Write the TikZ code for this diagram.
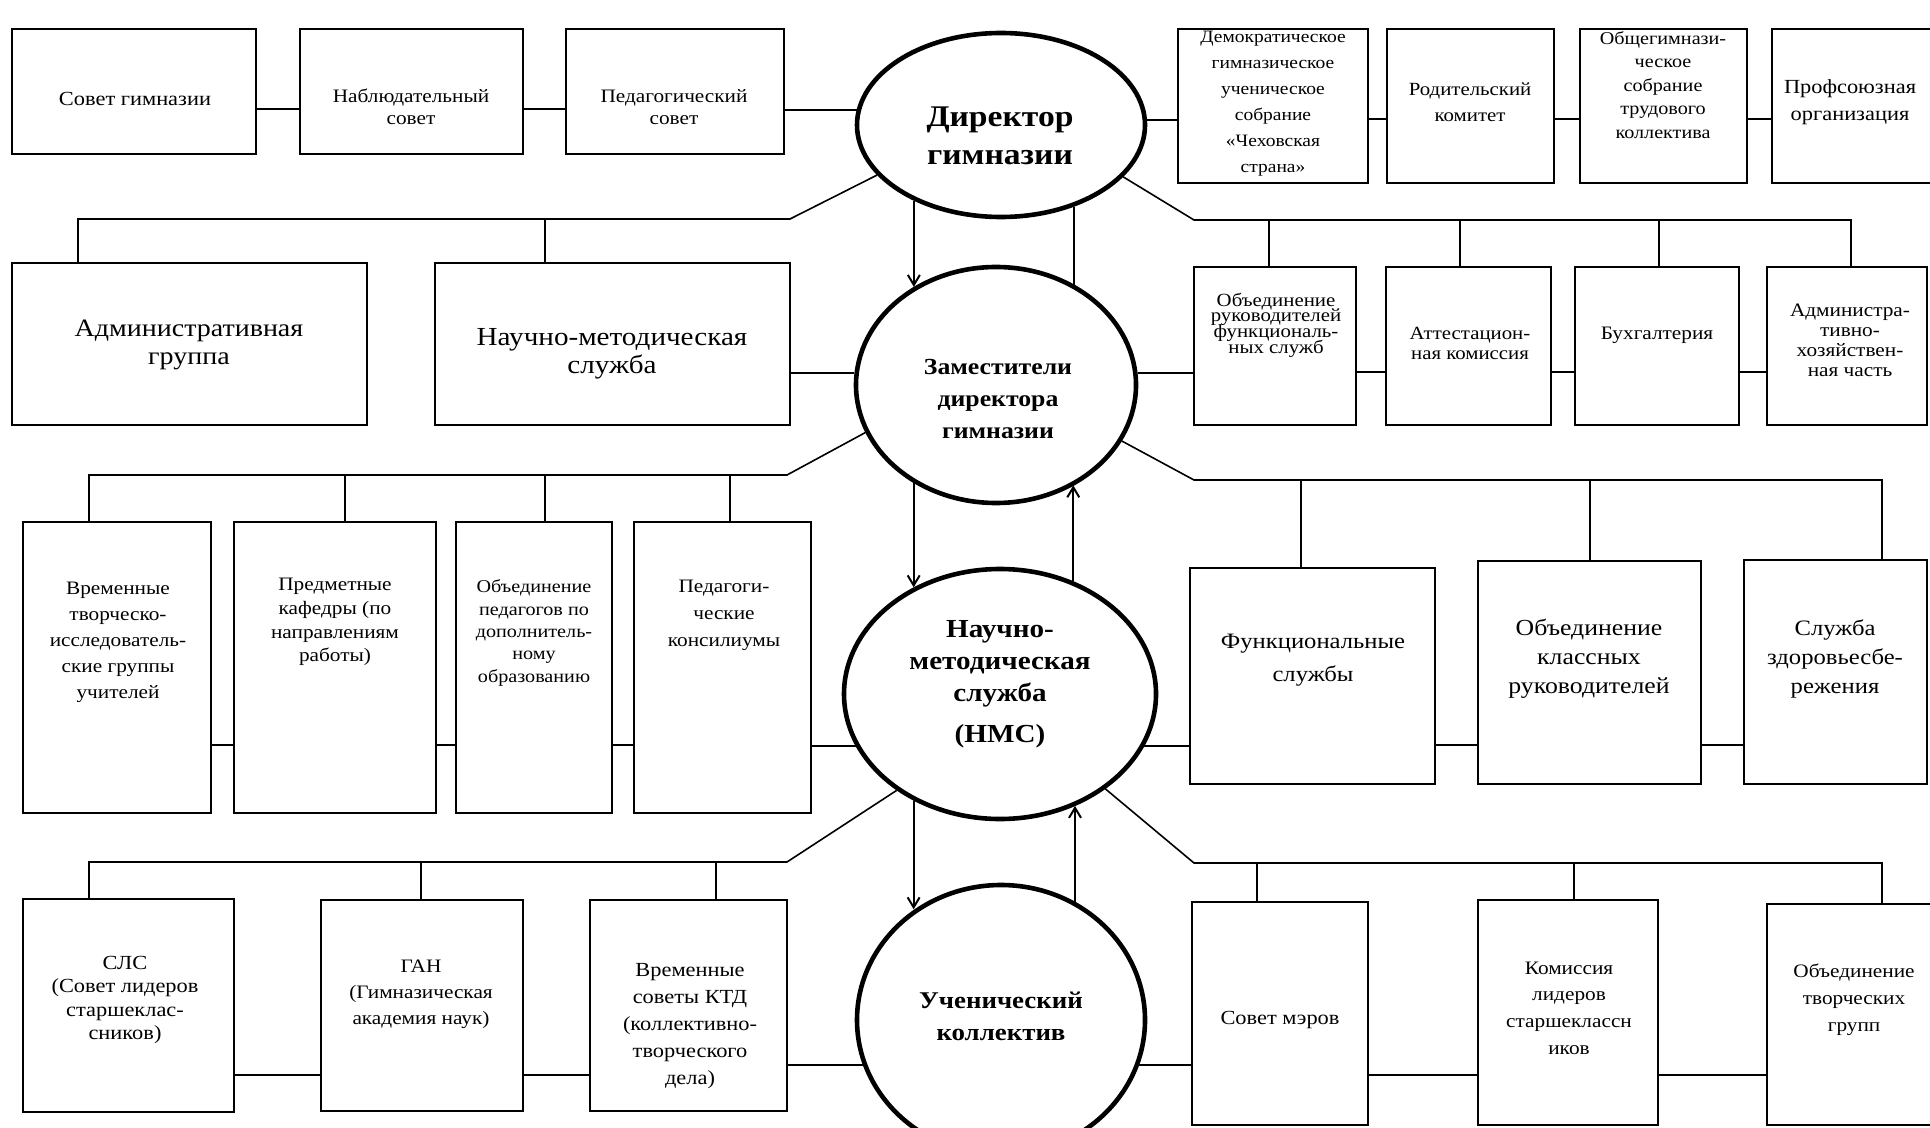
\documentclass[tikz,border=0pt]{standalone}
\usepackage{fontspec}
\setmainfont{Liberation Serif}[FakeStretch=1.12]
\usetikzlibrary{shapes.geometric,arrows.meta}
\newcommand\fsz[2]{\fontsize{#1}{#2}\selectfont\lineskiplimit=-20pt\relax}
\newcommand\mkbox[5]{\node[box, minimum width={(#4-#2)*0.5pt}, minimum height={(#5-#3)*0.5pt}] (#1) at ({(#2+#4)/2},{(#3+#5)/2}) {};}
\tikzset{
  box/.style={draw, line width=1.1pt, inner sep=0pt, outer sep=0pt},
  oval/.style={draw, ellipse, line width=2.3pt, inner sep=0pt},
  tx/.style={align=center, inner sep=0pt},
  btx/.style={align=center, inner sep=0pt},
  link/.style={line width=1pt},
  branch/.style={line width=0.8pt},
  arr/.style={line width=1pt, -{Straight Barb[length=5pt,width=6pt]}},
}
\begin{document}
\begin{tikzpicture}[x=0.5pt,y=-0.5pt]
\useasboundingbox (0,0) rectangle (1930,1128);
\fill[white] (0,0) rectangle (1930,1128);
\clip (0,0) rectangle (1930,1128);

% ---------- ellipses ----------
\node[oval, minimum width=144pt, minimum height=92pt]  (dir) at (1001,125) {};
\node[oval, minimum width=140pt, minimum height=118pt] (zam) at (996,385) {};
\node[oval, minimum width=156pt, minimum height=125pt] (nms) at (1000,694) {};
\node[oval, minimum width=144pt, minimum height=135pt] (uch) at (1001,1020) {};
\node[btx, font=\bfseries\fsz{15}{19}]     (dir-t) at (1000,136) {Директор\\гимназии};
\node[btx, font=\bfseries\fsz{11.5}{15.8}] (zam-t) at (998,399) {Заместители\\директора\\гимназии};
\node[btx, font=\bfseries\fsz{13}{16}]     (nms-t) at (1000,684) {Научно-\\методическая\\служба\\[4.5pt](НМС)};
\node[btx, font=\bfseries\fsz{12}{16}]     (uch-t) at (1001,1016) {Ученический\\коллектив};

% ---------- boxes ----------
\mkbox{sovet}{12}{29}{256}{154}
\mkbox{nabl}{300}{29}{523}{154}
\mkbox{ped}{566}{29}{784}{154}
\mkbox{demo}{1178}{29}{1368}{183}
\mkbox{rod}{1387}{29}{1554}{183}
\mkbox{obsh}{1580}{29}{1747}{183}
\mkbox{prof}{1772}{29}{1935}{183}
\mkbox{adm}{12}{263}{367}{425}
\mkbox{nauch}{435}{263}{790}{425}
\mkbox{obrk}{1194}{267}{1356}{425}
\mkbox{att}{1386}{267}{1551}{425}
\mkbox{buh}{1575}{267}{1739}{425}
\mkbox{admh}{1767}{267}{1927}{425}
\mkbox{vrem}{23}{522}{211}{813}
\mkbox{pred}{234}{522}{436}{813}
\mkbox{obped}{456}{522}{612}{813}
\mkbox{pedk}{634}{522}{811}{813}
\mkbox{func}{1190}{568}{1435}{784}
\mkbox{oklr}{1478}{561}{1701}{784}
\mkbox{zdr}{1744}{560}{1927}{784}
\mkbox{sls}{23}{899}{234}{1112}
\mkbox{gan}{321}{900}{523}{1111}
\mkbox{ktd}{590}{900}{787}{1111}
\mkbox{sovm}{1192}{902}{1368}{1125}
\mkbox{kom}{1478}{900}{1658}{1125}
\mkbox{obtv}{1767}{904}{1935}{1125}

% ---------- box texts ----------
\node[tx, font=\fsz{10}{11}]     (sovet-t) at (135,99)  {Совет гимназии};
\node[tx, font=\fsz{9.5}{11}]    (nabl-t)  at (411,107) {Наблюдательный\\совет};
\node[tx, font=\fsz{9.5}{11}]    (ped-t)   at (674,107) {Педагогический\\совет};
\node[tx, font=\fsz{8.7}{13}]    (demo-t)  at (1273,104) {Демократическое\\гимназическое\\ученическое\\собрание\\«Чеховская\\страна»};
\node[tx, font=\fsz{9.3}{13}]    (rod-t)   at (1470,102) {Родительский\\комитет};
\node[tx, font=\fsz{9}{11.7}]    (obsh-t)  at (1663,85)  {Общегимнази-\\ческое\\собрание\\трудового\\коллектива};
\node[tx, font=\fsz{10}{13.5}]   (prof-t)  at (1850,102) {Профсоюзная\\организация};
\node[tx, font=\fsz{12.5}{14}]   (adm-t)   at (189,345) {Административная\\группа};
\node[tx, font=\fsz{13}{14}]     (nauch-t) at (612,354) {Научно-методическая\\служба};
\node[tx, font=\fsz{9.3}{7.8}]   (obrk-t)  at (1276,325) {Объединение\\руководителей\\функциональ-\\ных служб};
\node[tx, font=\fsz{9.3}{10}]    (att-t)   at (1470,343) {Аттестацион-\\ная комиссия};
\node[tx, font=\fsz{9.5}{9}]     (buh-t)   at (1657,335) {Бухгалтерия};
\node[tx, font=\fsz{9.5}{10}]    (admh-t)  at (1850,340) {Администра-\\тивно-\\хозяйствен-\\ная часть};
\node[tx, font=\fsz{9.5}{13}]    (vrem-t)  at (118,642) {Временные\\творческо-\\исследователь-\\ские группы\\учителей};
\node[tx, font=\fsz{9.5}{11.8}]  (pred-t)  at (335,622) {Предметные\\кафедры (по\\направлениям\\работы)};
\node[tx, font=\fsz{9}{11.2}]    (obped-t) at (534,633) {Объединение\\педагогов по\\дополнитель-\\ному\\образованию};
\node[tx, font=\fsz{9.5}{13.5}]  (pedk-t)  at (724,615) {Педагоги-\\ческие\\консилиумы};
\node[tx, font=\fsz{11}{16.5}]   (func-t)  at (1313,660) {Функциональные\\службы};
\node[tx, font=\fsz{11.5}{14.5}] (oklr-t)  at (1589,659) {Объединение\\классных\\руководителей};
\node[tx, font=\fsz{11}{14.5}]   (zdr-t)   at (1835,659) {Служба\\здоровьесбе-\\режения};
\node[tx, font=\fsz{10}{11.7}]   (sls-t)   at (125,1000) {СЛС\\(Совет лидеров\\старшеклас-\\сников)};
\node[tx, font=\fsz{9.5}{13}]    (gan-t)   at (421,994) {ГАН\\(Гимназическая\\академия наук)};
\node[tx, font=\fsz{10}{13.5}]   (ktd-t)   at (690,1026) {Временные\\советы КТД\\(коллективно-\\творческого\\дела)};
\node[tx, font=\fsz{10}{12}]     (sovm-t)  at (1280,1020) {Совет мэров};
\node[tx, font=\fsz{9.5}{13.3}]  (kom-t)   at (1569,1008) {Комиссия\\лидеров\\старшеклассн\\иков};
\node[tx, font=\fsz{9.5}{13.5}]  (obtv-t)  at (1854,1000) {Объединение\\творческих\\групп};

% ---------- horizontal connectors ----------
\coordinate (y1) at (0,109);
\coordinate (y1r) at (0,119);
\coordinate (y2) at (0,372);
\coordinate (y3) at (0,745);
\coordinate (y4) at (0,1075);
\draw[link] (sovet.east |- y1) -- (nabl.west |- y1);
\draw[link] (nabl.east |- y1) -- (ped.west |- y1);
\draw[link] (ped.east |- dir.174) -- (dir.174);
\draw[link] (dir.2) -- (dir.2 -| demo.west);
\draw[link] (demo.east |- y1r) -- (rod.west |- y1r);
\draw[link] (rod.east |- y1r) -- (obsh.west |- y1r);
\draw[link] (obsh.east |- y1r) -- (prof.west |- y1r);

\draw[link] (nauch.east |- zam.175) -- (zam.175);
\draw[link] (zam.5) -- (zam.5 -| obrk.west);
\draw[link] (obrk.east |- y2) -- (att.west |- y2);
\draw[link] (att.east |- y2) -- (buh.west |- y2);
\draw[link] (buh.east |- y2) -- (admh.west |- y2);

\draw[link] (vrem.east |- y3) -- (pred.west |- y3);
\draw[link] (pred.east |- y3) -- (obped.west |- y3);
\draw[link] (obped.east |- y3) -- (pedk.west |- y3);
\draw[link] (pedk.east |- nms.200) -- (nms.200);
\draw[link] (nms.340) -- (nms.340 -| func.west);
\draw[link] (func.east |- y3) -- (oklr.west |- y3);
\draw[link] (oklr.east |- y3) -- (zdr.west |- y3);

\draw[link] (sls.east |- y4) -- (gan.west |- y4);
\draw[link] (gan.east |- y4) -- (ktd.west |- y4);
\draw[link] (ktd.east |- uch.198) -- (uch.198);
\draw[link] (uch.342) -- (uch.342 -| sovm.west);
\draw[link] (sovm.east |- y4) -- (kom.west |- y4);
\draw[link] (kom.east |- y4) -- (obtv.west |- y4);

% ---------- vertical links between ellipses ----------
\draw[arr]  (dir.221) -- (dir.221 |- zam.130);
\draw[link] (dir.312) -- (dir.312 |- zam.52);
\draw[arr]  (zam.230) -- (zam.230 |- nms.129);
\draw[arr]  (nms.57) -- (nms.57 |- zam.308);
\draw[arr]  (nms.231) -- (nms.231 |- uch.128);
\draw[arr]  (uch.58) -- (uch.58 |- nms.304);

% ---------- branches ----------
\coordinate (k1) at (790,219);
\coordinate (k2) at (1194,220);
\coordinate (k3) at (787,475);
\coordinate (k4) at (1194,480);
\coordinate (k5) at (787,862);
\coordinate (k6) at (1194,863);

\coordinate (d11) at ([xshift=33pt]adm.north west);
\coordinate (d12) at ([xshift=55pt]nauch.north west);
\draw[branch] (dir.202) -- (k1) -| (d11);
\draw[branch] (k1 -| d12) -- (d12);

\coordinate (d21) at ([xshift=37.5pt]obrk.north west);
\coordinate (d22) at ([xshift=37pt]att.north west);
\coordinate (d23) at ([xshift=42pt]buh.north west);
\coordinate (d24) at ([xshift=42pt]admh.north west);
\draw[branch] (dir.337) -- (k2) -| (d24);
\draw[branch] (k2 -| d21) -- (d21);
\draw[branch] (k2 -| d22) -- (d22);
\draw[branch] (k2 -| d23) -- (d23);

\coordinate (d31) at ([xshift=33pt]vrem.north west);
\coordinate (d32) at ([xshift=55.5pt]pred.north west);
\coordinate (d33) at ([xshift=44.5pt]obped.north west);
\coordinate (d34) at ([xshift=48pt]pedk.north west);
\draw[branch] (zam.200) -- (k3) -| (d31);
\draw[branch] (k3 -| d32) -- (d32);
\draw[branch] (k3 -| d33) -- (d33);
\draw[branch] (k3 -| d34) -- (d34);

\coordinate (d41) at ([xshift=55.5pt]func.north west);
\coordinate (d42) at ([xshift=56pt]oklr.north west);
\coordinate (d43) at ([xshift=69pt]zdr.north west);
\draw[branch] (zam.336) -- (k4) -| (d43);
\draw[branch] (k4 -| d41) -- (d41);
\draw[branch] (k4 -| d42) -- (d42);

\coordinate (d51) at ([xshift=33pt]sls.north west);
\coordinate (d52) at ([xshift=50pt]gan.north west);
\coordinate (d53) at ([xshift=63pt]ktd.north west);
\draw[branch] (nms.223) -- (k5) -| (d51);
\draw[branch] (k5 -| d52) -- (d52);
\draw[branch] (k5 -| d53) -- (d53);

\coordinate (d61) at ([xshift=32.5pt]sovm.north west);
\coordinate (d62) at ([xshift=48pt]kom.north west);
\coordinate (d63) at ([xshift=57.5pt]obtv.north west);
\draw[branch] (nms.318) -- (k6) -| (d63);
\draw[branch] (k6 -| d61) -- (d61);
\draw[branch] (k6 -| d62) -- (d62);
\end{tikzpicture}
\end{document}
